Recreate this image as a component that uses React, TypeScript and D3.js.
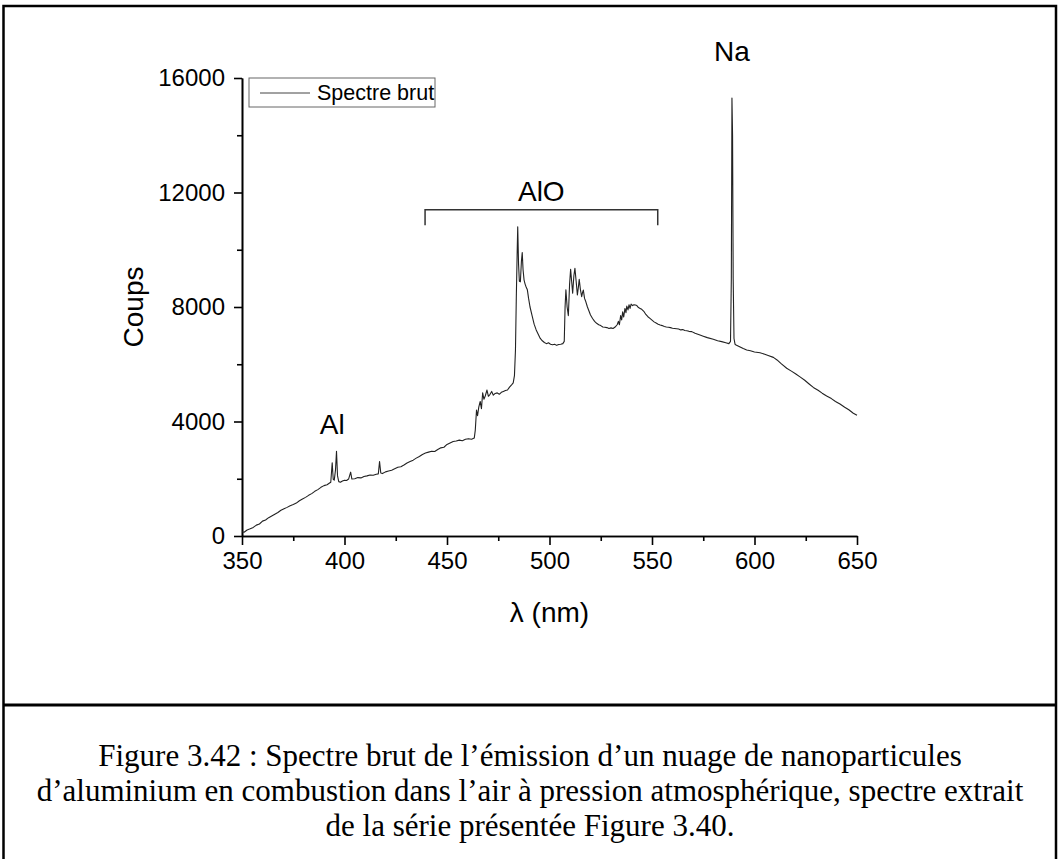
import { useEffect, useRef } from 'react';
import * as d3 from 'd3';

// wavelength (nm) and counts
const wavelengths = [
  350, 351, 352.5, 354, 355.5, 357, 358.5, 360, 361.5, 363, 364.5, 366, 367.5, 369, 370.5, 372, 373.5, 375,
  376.5, 378, 379.5, 381, 382.5, 384, 385.5, 387, 388.5, 390, 391.5, 392.7, 393.3, 394.0, 394.5, 395.0, 395.6,
  396.1, 396.6, 397.2, 398, 399, 400, 401, 402, 403, 403.6, 405, 406.5, 408, 409.5, 411, 412.5, 414, 415.5,
  416.5, 417.1, 417.7, 418.5, 420, 421.5, 423, 424.5, 426, 427.5, 429, 430.5, 432, 433.5, 435, 436.5, 438,
  439.5, 441, 442.5, 444, 445.5, 447, 448.5, 450, 451.5, 453, 454.5, 456, 457.5, 459, 460.5, 462, 463.3, 463.8,
  464.4, 464.9, 465.5, 466.2, 466.8, 467.4, 468, 468.7, 469.5, 470.2, 471, 471.8, 472.6, 473.5, 474.5, 475.5,
  476.5, 477.5, 478.5, 479.5, 480.5, 481.5, 482.3, 482.9, 483.4, 483.8, 484.2, 484.5, 484.9, 485.3, 485.8,
  486.3, 486.7, 487.1, 487.6, 488.1, 488.6, 489.2, 489.8, 490.5, 491.5, 492.5, 493.5, 494.5, 495.5, 496.5,
  497.5, 498.5, 499.5, 500.5, 501.5, 502.5, 503.5, 504.5, 505.5, 506.5, 507.2, 507.6, 508.0, 508.6, 509.2,
  509.8, 510.3, 510.8, 511.3, 511.9, 512.4, 513.0, 513.6, 514.1, 514.5, 515.1, 515.7, 516.1, 516.5, 517.1,
  517.7, 518.5, 519.3, 520, 521, 522, 523, 524, 525, 526, 527, 528, 529, 530, 531, 532, 533, 533.6, 534.1,
  534.7, 535.2, 535.7, 536.2, 536.8, 537.3, 537.7, 538.3, 538.8, 539.3, 539.8, 540.5, 541.2, 541.9, 542.6,
  543.4, 544.2, 545, 546, 547, 548, 549, 550, 551, 552, 553, 554, 555, 556, 557, 558, 559, 560, 561, 562, 563,
  564, 565, 566, 567, 568, 569.4, 571, 573.4, 575, 577, 579.9, 582, 584, 586, 587.5, 588.3, 588.7, 589.0,
  589.3, 589.6, 590.0, 590.5, 591, 593, 594.5, 596.2, 598, 600, 602.7, 605, 607, 609.2, 611, 613, 615.7, 618,
  620, 622.2, 624.5, 626.5, 628.7, 631, 633, 635.2, 637.5, 639.5, 641.7, 644, 646, 648.2, 650,
];
const counts = [
  150, 130, 210, 250, 300, 380, 420, 520, 560, 640, 700, 760, 820, 900, 950, 1000, 1060, 1100,
  1150, 1230, 1290, 1350, 1420, 1480, 1560, 1620, 1700, 1760, 1790, 1850, 1880, 2560, 1980, 1950, 2300,
  2960, 2100, 1900, 1880, 1920, 1950, 1940, 1990, 2230, 1990, 2000, 2040, 2030, 2080, 2100, 2130, 2120, 2160,
  2170, 2600, 2200, 2180, 2240, 2270, 2300, 2350, 2400, 2420, 2480, 2550, 2600, 2650, 2720, 2780, 2850,
  2900, 2930, 2960, 2950, 3020, 3080, 3100, 3200, 3250, 3300, 3320, 3350, 3330, 3380, 3400, 3380, 3420, 3700,
  4400, 4200, 4500, 4700, 4450, 5000, 4780, 4900, 5100, 4880, 4950, 5050, 4920, 4980, 5000, 4950,
  5020, 5050, 5080, 5100, 5200, 5280, 5350, 5600, 6500, 8300, 9800, 10800, 9500, 8900, 8880,
  9600, 9900, 9300, 8940, 8800, 8700, 8600, 8300, 8000, 7700, 7400, 7200, 7050, 6900, 6820,
  6760, 6720, 6750, 6700, 6680, 6700, 6660, 6690, 6700, 6720, 6800, 8000, 8600, 8000, 7700,
  8800, 9320, 8900, 8480, 9100, 9350, 8900, 8420, 8700, 8970, 8600, 8360, 8500, 8590, 8300,
  8190, 8000, 7850, 7720, 7600, 7500, 7430, 7380, 7350, 7300, 7290, 7280, 7250, 7270, 7250, 7300, 7380, 7500, 7380,
  7700, 7550, 7830, 7650, 7950, 7800, 8030, 7900, 8080, 7950, 8100, 8050, 8080, 8070, 8050,
  7980, 7950, 7920, 7850, 7740, 7660, 7600, 7540, 7480, 7440, 7400, 7370, 7350, 7320, 7300, 7290, 7280, 7260, 7250, 7240, 7230,
  7200, 7210, 7180, 7170, 7150, 7140, 7080, 7020, 6980, 6930, 6870, 6820, 6790, 6750, 6720, 6800, 9000, 15300,
  14000, 9000, 6900, 6700, 6670, 6600, 6550, 6500, 6470, 6430, 6400, 6350, 6300, 6240, 6150, 6020, 5860, 5760,
  5670, 5560, 5440, 5320, 5190, 5090, 4990, 4890, 4800, 4700, 4610, 4500, 4410, 4290, 4220,
];

const xMajor = [350, 400, 450, 500, 550, 600, 650];
const xMinor = [375, 425, 475, 525, 575, 625];
const yMajor = [0, 4000, 8000, 12000, 16000];
const yMinor = [2000, 6000, 10000, 14000];

const seriesName = 'Spectre brut';
const annotations = [
  { label: 'Al', x: 394, y: 3560 },
  { label: 'AlO', x: 496, y: 11700 },
  { label: 'Na', x: 589, y: 16600 },
];
const bracket = { from: 439.3, to: 552.8, top: 11400, bottom: 10860 };

const captionLines = [
  'Figure 3.42 : Spectre brut de l’émission d’un nuage de nanoparticules',
  'd’aluminium en combustion dans l’air à pression atmosphérique, spectre extrait',
  'de la série présentée Figure 3.40.',
];

const App = () => {
  const svgRef = useRef<SVGSVGElement | null>(null);

  const width = 1059;
  const height = 859;
  const marginTop = 78;
  const marginRight = 202;
  const marginBottom = 323;
  const marginLeft = 242;
  const sans = 'Arial, "Liberation Sans", Helvetica, sans-serif';

  useEffect(() => {
    const svgElement = svgRef.current;
    if (!svgElement) return;
    const svg = d3.select(svgElement);
    svg.selectAll('*').remove();

    // frame of the figure box
    svg.append('path')
      .attr('d', `M3.5,${height} V6 H1056 V${height}`)
      .attr('fill', 'none')
      .attr('stroke', '#000')
      .attr('stroke-width', 2.5);
    svg.append('line')
      .attr('x1', 3).attr('x2', 1056)
      .attr('y1', 705).attr('y2', 705)
      .attr('stroke', '#000')
      .attr('stroke-width', 3);

    const x = d3.scaleLinear().domain([350, 650]).range([marginLeft, width - marginRight]);
    const y = d3.scaleLinear().domain([0, 16000]).range([height - marginBottom, marginTop]);

    const styleAxis = (g: d3.Selection<SVGGElement, unknown, null, undefined>) => {
      g.select('.domain').attr('stroke-width', 1.6);
      g.selectAll('.tick line').attr('stroke-width', 1.6);
      g.selectAll('.tick text')
        .attr('font-family', sans)
        .attr('font-size', 24)
        .attr('fill', '#000');
    };

    svg.append('g')
      .attr('transform', `translate(0,${height - marginBottom})`)
      .call(d3.axisBottom(x).tickValues(xMinor).tickSize(5).tickSizeOuter(0).tickFormat(() => ''))
      .call(styleAxis);
    svg.append('g')
      .attr('transform', `translate(0,${height - marginBottom})`)
      .call(d3.axisBottom(x).tickValues(xMajor).tickSize(9).tickSizeOuter(0).tickPadding(7).tickFormat(d3.format('d')))
      .call(styleAxis);

    svg.append('g')
      .attr('transform', `translate(${marginLeft},0)`)
      .call(d3.axisLeft(y).tickValues(yMinor).tickSize(5).tickSizeOuter(0).tickFormat(() => ''))
      .call(styleAxis);
    svg.append('g')
      .attr('transform', `translate(${marginLeft},0)`)
      .call(d3.axisLeft(y).tickValues(yMajor).tickSize(8).tickSizeOuter(0).tickPadding(9).tickFormat(d3.format('d')))
      .call(styleAxis);

    const data = wavelengths.map((w, i) => ({ x: w, y: counts[i] }));
    const line = d3.line<{ x: number; y: number }>()
      .x(d => x(d.x))
      .y(d => y(d.y));

    svg.append('path')
      .datum(data)
      .attr('fill', 'none')
      .attr('stroke', '#222')
      .attr('stroke-width', 1.1)
      .attr('stroke-linejoin', 'round')
      .attr('d', line);

    // axis titles
    svg.append('text')
      .attr('transform', `translate(143,${(marginTop + height - marginBottom) / 2}) rotate(-90)`)
      .attr('text-anchor', 'middle')
      .attr('font-family', sans)
      .attr('font-size', 28)
      .text('Coups');
    svg.append('text')
      .attr('x', (marginLeft + width - marginRight) / 2)
      .attr('y', 622)
      .attr('text-anchor', 'middle')
      .attr('font-family', sans)
      .attr('font-size', 28)
      .text('λ (nm)');

    // legend
    const legend = svg.append('g').attr('transform', 'translate(249,78)');
    legend.append('rect')
      .attr('width', 186).attr('height', 29)
      .attr('fill', '#fff')
      .attr('stroke', '#666')
      .attr('stroke-width', 1);
    legend.append('line')
      .attr('x1', 11).attr('x2', 61)
      .attr('y1', 15).attr('y2', 15)
      .attr('stroke', '#444')
      .attr('stroke-width', 1);
    legend.append('text')
      .attr('x', 68).attr('y', 22)
      .attr('font-family', sans)
      .attr('font-size', 21.5)
      .text(seriesName);

    // peak labels and AlO bracket
    svg.append('g')
      .selectAll('text')
      .data(annotations)
      .join('text')
      .attr('x', d => x(d.x))
      .attr('y', d => y(d.y))
      .attr('text-anchor', 'middle')
      .attr('font-family', sans)
      .attr('font-size', 28)
      .text(d => d.label);

    svg.append('path')
      .attr('d', `M${x(bracket.from)},${y(bracket.bottom)} V${y(bracket.top)} H${x(bracket.to)} V${y(bracket.bottom)}`)
      .attr('fill', 'none')
      .attr('stroke', '#333')
      .attr('stroke-width', 1.5);

    // caption
    svg.append('g')
      .selectAll('text')
      .data(captionLines)
      .join('text')
      .attr('x', 530)
      .attr('y', (_, i) => 766 + i * 35)
      .attr('text-anchor', 'middle')
      .attr('font-family', '"Times New Roman", "Liberation Serif", serif')
      .attr('font-size', 31)
      .text(d => d);
  }, []);

  return (
    <svg
      ref={svgRef}
      width={width}
      height={height}
      style={{ position: 'absolute', left: 0, top: 0, background: '#fff' }}
    />
  );
};

export default App;
